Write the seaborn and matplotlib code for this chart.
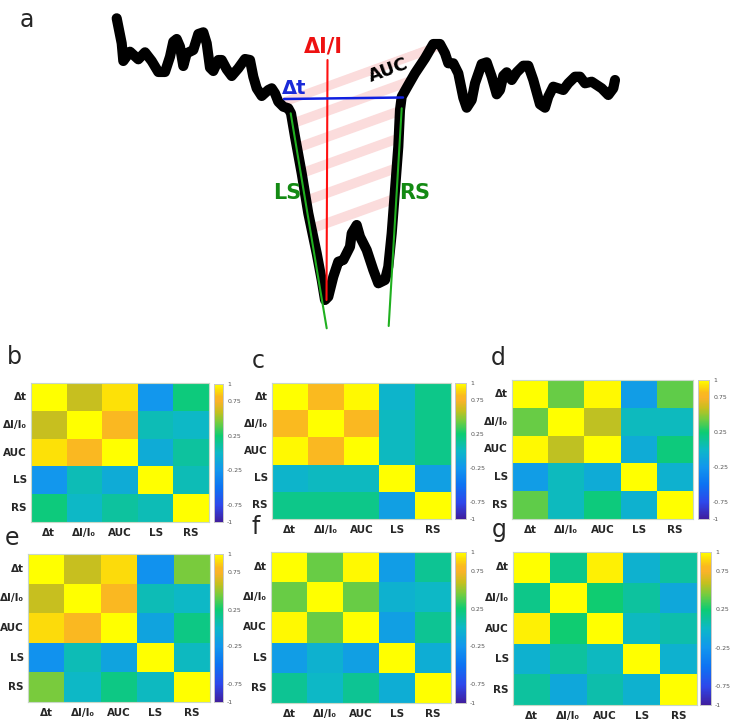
import numpy as np
import pandas as pd
import matplotlib
matplotlib.use("Agg")
import matplotlib.pyplot as plt
from matplotlib.colors import LinearSegmentedColormap
from matplotlib.patches import Polygon
import seaborn as sns

sns.set_style("white")
plt.rcParams['font.family'] = ['DejaVu Sans']

# ---------------- data ----------------
labels = ["Δt", "ΔI/I₀", "AUC", "LS", "RS"]

# upper-triangle correlations: (Δt-ΔI, Δt-AUC, Δt-LS, Δt-RS, ΔI-AUC, ΔI-LS, ΔI-RS, AUC-LS, AUC-RS, LS-RS)
corr_b = [0.60, 0.92, -0.25, 0.22, 0.80, 0.05, 0.00, -0.10, 0.12, 0.05]
corr_c = [0.82, 0.98, -0.03, 0.18, 0.80, 0.02, 0.18, 0.02, 0.18, -0.18]
corr_d = [0.42, 0.98, -0.20, 0.40, 0.58, 0.03, 0.03, -0.10, 0.22, -0.05]
corr_e = [0.60, 0.90, -0.28, 0.45, 0.80, 0.05, 0.00, -0.15, 0.20, 0.02]
corr_f = [0.42, 0.98, -0.20, 0.15, 0.42, -0.05, 0.00, -0.18, 0.15, -0.08]
corr_g = [0.18, 0.96, -0.05, 0.12, 0.25, 0.12, -0.12, 0.02, 0.08, -0.05]

cbar_ticks = [1, 0.75, 0.25, -0.25, -0.75, -1]
cbar_ticklabels = ["1", "0.75", "0.25", "-0.25", "-0.75", "-1"]

# trace (panel a), pixel coordinates
trace_x = [116.7, 121.7, 123.3, 130, 138.3, 145, 151.7, 158.3, 165, 170, 173.3, 176.7, 180, 183.3,
           186.7, 193.3, 198.3, 203.3, 206.7, 210, 213.3, 218.3, 221.7, 226.7, 231.7, 238.3, 245,
           250, 253.3, 256.7, 261.7, 268.3, 271.7, 275, 278.3, 283.3, 288.3,
           291, 295, 301.7, 308.3, 316.7, 321.7, 325, 328.3, 333.3, 338.3, 343.3, 350, 351.7,
           356.7, 360, 366.7, 373.3, 378.3, 385, 388.3, 391.7, 395, 398.3, 400, 401.7,
           408.3, 415, 425, 433.3, 440, 445, 448.3, 453.3, 458.3, 463.3, 466.7, 471.7, 475,
           481.7, 486.7, 491.7, 496.7, 500, 503.3, 506.7, 511.7, 516.7, 523.3, 528.3, 533.3,
           540, 545, 548.3, 553.3, 558.3, 563.3, 568.3, 575, 580, 585, 591.7, 596.7, 601.7,
           608.3, 613.3, 615]
trace_y = [18.3, 43.3, 61, 51.7, 59.3, 52.3, 61, 72, 72, 56.7, 41.7, 39, 46.7, 66,
           53.3, 50, 34, 32.3, 43.3, 67.7, 71, 60, 60, 69.3, 76, 68.3, 59,
           60, 76.7, 88.3, 96, 90, 88.3, 93.3, 101.7, 106.7, 108.3,
           113.3, 136.7, 173.3, 213.3, 253.3, 280, 300, 296.7, 276.7, 261.7, 260, 246.7, 233.3,
           225, 236.7, 250, 270, 283.3, 280, 266.7, 233.3, 190, 146.7, 110, 96.7,
           85, 73.3, 58.3, 44, 44, 53.3, 63.3, 63.3, 73.3, 97.7, 107.7, 100, 83.3,
           64, 62.3, 76.7, 94.3, 90, 75.7, 72.3, 80, 72.3, 65.7, 65.7, 80,
           104.3, 107.7, 96.7, 86.7, 88.3, 90, 83.3, 76.7, 76.7, 83.3, 81.7, 85, 88.3,
           95, 88.3, 80]

peak_x = [327.5, 326.5]; peak_y = [60, 300]          # ΔI/I line
dt_x = [284, 403]; dt_y = [99, 97.5]                   # Δt line
ls_x = [290.7, 326.7]; ls_y = [113.3, 328.3]           # left slope
rs_x = [401.7, 388.7]; rs_y = [108.3, 326]             # right slope
auc_x = [282, 436, 441, 415, 408, 401, 398, 395, 391, 388, 316, 308, 301, 295, 290]
auc_y = [98, 42, 50, 73, 85, 97, 147, 190, 233, 250, 256, 213, 173, 137, 113]
stripe_y0 = [103, 128, 154, 181, 210, 240]             # stripe left heights at x=280


def to_matrix(v):
    m = np.eye(5)
    k = 0
    for i in range(5):
        for j in range(i + 1, 5):
            m[i, j] = m[j, i] = v[k]
            k += 1
    return pd.DataFrame(m, index=labels, columns=labels)


# parula-like colormap (saturated)
cmap = LinearSegmentedColormap.from_list("parula_like", [
    (0.00, (0.25, 0.12, 0.62)),
    (0.12, (0.18, 0.28, 0.92)),
    (0.25, (0.05, 0.45, 0.95)),
    (0.375, (0.07, 0.59, 0.93)),
    (0.50, (0.05, 0.72, 0.78)),
    (0.625, (0.05, 0.80, 0.45)),
    (0.72, (0.45, 0.80, 0.25)),
    (0.80, (0.78, 0.75, 0.12)),
    (0.875, (0.98, 0.70, 0.16)),
    (0.91, (0.98, 0.73, 0.12)),
    (0.96, (0.99, 0.88, 0.03)),
    (1.00, (1.00, 1.00, 0.00)),
])

W, H = 731, 727
fig = plt.figure(figsize=(W / 100, H / 100), dpi=100)


def box(x0, y0, x1, y1):
    return [x0 / W, 1 - y1 / H, (x1 - x0) / W, (y1 - y0) / H]


# ---------------- panel a ----------------
ax_a = fig.add_axes([0, 1 - 340 / H, 1, 340 / H])
ax_a.set_xlim(0, W)
ax_a.set_ylim(340, 0)
ax_a.axis('off')

clip = Polygon(np.column_stack([auc_x, auc_y]), closed=True, transform=ax_a.transData,
               facecolor='none', edgecolor='none')
ax_a.add_patch(clip)
for y0 in stripe_y0:
    xs = np.array([260, 460])
    ys = y0 - 0.36 * (xs - 280)
    ln, = ax_a.plot(xs, ys, color='#fbdcdc', lw=7, solid_capstyle='butt', zorder=1)
    ln.set_clip_path(clip)

ax_a.plot(trace_x, trace_y, color='black', lw=7.3, solid_capstyle='round',
          solid_joinstyle='round', zorder=3)
ax_a.plot(peak_x, peak_y, color='#ff1010', lw=1.5, zorder=4)
ax_a.plot(dt_x, dt_y, color='#1020e0', lw=1.8, zorder=4)
ax_a.plot(ls_x, ls_y, color='#20b020', lw=1.5, zorder=4)
ax_a.plot(rs_x, rs_y, color='#20b020', lw=1.5, zorder=4)

narrow = ['Liberation Sans Narrow', 'DejaVu Sans']
ax_a.text(323, 46, "ΔI/I", color='#ee1111', fontsize=15, fontweight='bold',
          family=narrow, ha='center', va='center', zorder=5)
ax_a.text(294, 89, "Δt", color='#1a2ad8', fontsize=14, fontweight='bold',
          family=narrow, ha='center', va='center', zorder=5)
ax_a.text(389, 70, "AUC", color='black', fontsize=13, fontweight='bold',
          family=narrow, ha='center', va='center', rotation=20, zorder=5)
ax_a.text(287, 193, "LS", color='#138a13', fontsize=15, fontweight='bold',
          family=narrow, ha='center', va='center', zorder=5)
ax_a.text(415, 193, "RS", color='#138a13', fontsize=15, fontweight='bold',
          family=narrow, ha='center', va='center', zorder=5)
fig.text(27 / W, 1 - 20 / H, "a", fontsize=17, ha='center', va='center')

# ---------------- heatmaps ----------------
panels = [
    ("b", corr_b, (31, 383, 209, 522), (214, 384, 223, 522), (14, 357)),
    ("c", corr_c, (272, 383, 451, 519), (455, 383, 466, 519), (258, 361)),
    ("d", corr_d, (512, 380, 693, 519), (698, 380, 709, 519), (498, 358)),
    ("e", corr_e, (28, 554, 210, 702), (214, 554, 223, 702), (12, 538)),
    ("f", corr_f, (271, 552, 451, 703), (455, 552, 466, 703), (256, 527)),
    ("g", corr_g, (513, 552, 697, 705), (700, 552, 711, 705), (499, 530)),
]

for letter, vals, hb, cb, lp in panels:
    ax = fig.add_axes(box(*hb))
    cax = fig.add_axes(box(*cb))
    sns.heatmap(to_matrix(vals), ax=ax, cmap=cmap, vmin=-1, vmax=1, cbar_ax=cax,
                xticklabels=labels, yticklabels=labels, linewidths=0)
    ax.tick_params(length=0, pad=3)
    ax.tick_params(axis='x', pad=4)
    for t in ax.get_xticklabels():
        t.set_fontsize(7.5); t.set_fontweight('bold'); t.set_rotation(0)
    for t in ax.get_yticklabels():
        t.set_fontsize(7.5); t.set_fontweight('bold'); t.set_rotation(0)
    for s in ax.spines.values():
        s.set_visible(True); s.set_color('#c8d8c8'); s.set_linewidth(0.8)
    cax.set_yticks(cbar_ticks)
    cax.set_yticklabels(cbar_ticklabels)
    cax.tick_params(length=0, labelsize=4.5, colors='#555555', pad=3)
    for s in cax.spines.values():
        s.set_visible(True); s.set_color('#c8c8c8'); s.set_linewidth(0.6)
    fig.text(lp[0] / W, 1 - lp[1] / H, letter, fontsize=17, ha='center', va='center')

fig.savefig("out.png", dpi=100)
